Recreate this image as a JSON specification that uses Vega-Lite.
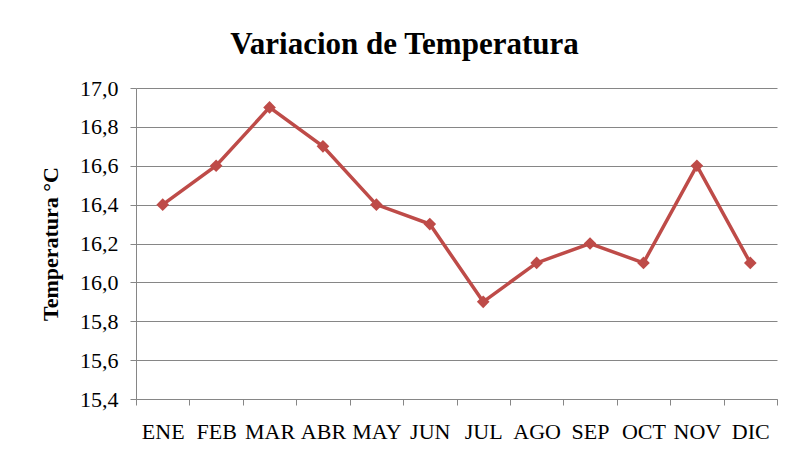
{
  "$schema": "https://vega.github.io/schema/vega-lite/v6.json",
  "width": 641,
  "height": 311,
  "autosize": {"type": "none"},
  "padding": {"left": 136, "top": 88, "right": 12, "bottom": 59},
  "background": "white",
  "title": {
    "text": "Variacion de Temperatura",
    "font": "Liberation Serif",
    "fontSize": 31,
    "fontWeight": "bold",
    "color": "#000000",
    "anchor": "middle",
    "frame": "group",
    "dx": -52,
    "offset": 16
  },
  "data": {
    "values": [
      {"mes": "ENE", "temp": 16.4},
      {"mes": "FEB", "temp": 16.6},
      {"mes": "MAR", "temp": 16.9},
      {"mes": "ABR", "temp": 16.7},
      {"mes": "MAY", "temp": 16.4},
      {"mes": "JUN", "temp": 16.3},
      {"mes": "JUL", "temp": 15.9},
      {"mes": "AGO", "temp": 16.1},
      {"mes": "SEP", "temp": 16.2},
      {"mes": "OCT", "temp": 16.1},
      {"mes": "NOV", "temp": 16.6},
      {"mes": "DIC", "temp": 16.1}
    ]
  },
  "mark": {
    "type": "line",
    "color": "#BE4B48",
    "strokeWidth": 3.5,
    "point": {"shape": "diamond", "size": 160, "filled": true, "color": "#BE4B48"}
  },
  "encoding": {
    "x": {
      "field": "mes",
      "type": "ordinal",
      "sort": null,
      "scale": {"paddingInner": 0, "paddingOuter": 0},
      "axis": {
        "title": null,
        "labelAngle": 0,
        "labelFont": "Liberation Serif",
        "labelFontSize": 22,
        "labelColor": "#000000",
        "labelPadding": 16,
        "tickBand": "extent",
        "tickSize": 6,
        "tickColor": "#868686",
        "domainColor": "#868686",
        "grid": false
      }
    },
    "y": {
      "field": "temp",
      "type": "quantitative",
      "scale": {"domain": [15.4, 17.0], "nice": false, "zero": false},
      "axis": {
        "title": "Temperatura °C",
        "titleFont": "Liberation Serif",
        "titleFontSize": 22,
        "titleFontWeight": "bold",
        "titleColor": "#000000",
        "titlePadding": 17,
        "values": [15.4, 15.6, 15.8, 16.0, 16.2, 16.4, 16.6, 16.8, 17.0],
        "labelExpr": "replace(format(datum.value, '.1f'), '.', ',')",
        "labelFont": "Liberation Serif",
        "labelFontSize": 22,
        "labelColor": "#000000",
        "labelPadding": 12,
        "tickSize": 6,
        "tickColor": "#868686",
        "domainColor": "#868686",
        "gridColor": "#868686",
        "gridOpacity": 1
      }
    }
  },
  "config": {
    "view": {"stroke": null}
  }
}
